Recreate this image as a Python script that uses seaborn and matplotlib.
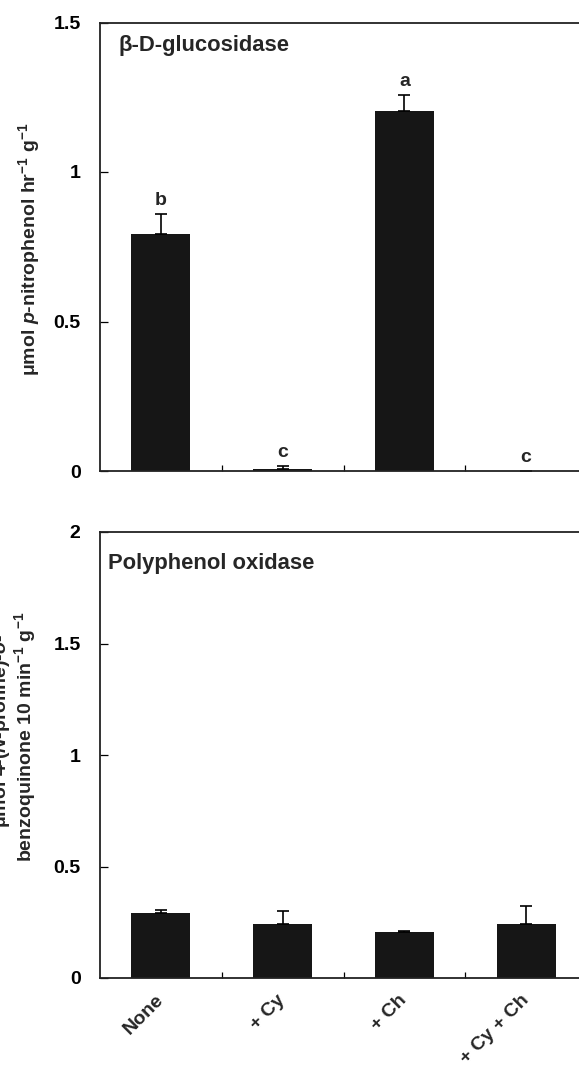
import matplotlib
matplotlib.use("Agg")
import matplotlib.pyplot as plt
import seaborn as sns
import numpy as np
import pandas as pd

categories = ["None", "+ Cy", "+ Ch", "+ Cy + Ch"]
gluc_mean = [0.793, 0.006, 1.205, 0.0]
gluc_err = [0.067, 0.010, 0.052, 0.0]
gluc_letters = ["b", "c", "a", "c"]
ppo_mean = [0.290, 0.244, 0.206, 0.244]
ppo_err = [0.016, 0.057, 0.005, 0.080]
gluc_yticks = [0, 0.5, 1, 1.5]
gluc_yticklabels = ["0", "0.5", "1", "1.5"]
ppo_yticks = [0, 0.5, 1, 1.5, 2]
ppo_yticklabels = ["0", "0.5", "1", "1.5", "2"]

sns.set_theme(style="white")
plt.rcParams["font.family"] = ["Liberation Sans", "DejaVu Sans"]
plt.rcParams["font.weight"] = "bold"
plt.rcParams["mathtext.fontset"] = "custom"
plt.rcParams["mathtext.rm"] = "Liberation Sans:bold"
plt.rcParams["mathtext.bf"] = "Liberation Sans:bold"
plt.rcParams["mathtext.it"] = "Liberation Sans:bold:italic"
plt.rcParams["mathtext.default"] = "rm"

W, H = 579, 1071
fig = plt.figure(figsize=(W / 100, H / 100), dpi=100)
ax1 = fig.add_axes([100 / W, 1 - 471 / H, 487 / W, 448.5 / H])
ax2 = fig.add_axes([100 / W, 1 - 978 / H, 487 / W, 446 / H])

barcolor = "#161616"
FS = 14


def draw(ax, mean, err, ylim, yticks, yticklabels, title, title_x, title_y,
         letters=None, show_x=False):
    df = pd.DataFrame({"cat": categories, "val": mean})
    sns.barplot(data=df, x="cat", y="val", color=barcolor, width=0.485,
                saturation=1, edgecolor="none", ax=ax, errorbar=None)
    pos = np.arange(len(categories))
    ax.errorbar(pos, mean, yerr=[np.zeros(len(err)), err], fmt="none",
                ecolor="black", elinewidth=1.2, capsize=4.6, capthick=1.2)
    ax.set_xlim(-0.5, 3.5)
    ax.set_ylim(*ylim)
    ax.set_yticks(yticks)
    ax.set_yticklabels(yticklabels, fontsize=FS, fontweight="bold")
    ax.tick_params(axis="y", direction="in", length=5.8, width=0.9, pad=14,
                   left=True, colors="black")
    ax.set_xticks(pos)
    ax.set_xticks(pos[:-1] + 0.5, minor=True)
    ax.tick_params(axis="x", which="major", length=0, pad=14)
    ax.tick_params(axis="x", which="minor", direction="in", length=4, width=0.9,
                   bottom=True, colors="black")
    if show_x:
        ax.set_xticklabels(categories, rotation=45, ha="right", va="center",
                           rotation_mode="anchor", fontsize=FS, fontweight="bold")
    else:
        ax.set_xticklabels([])
    ax.set_xlabel("")
    ax.set_ylabel("")
    for s in ["left", "bottom", "top"]:
        ax.spines[s].set_visible(True)
        ax.spines[s].set_color("#222222")
        ax.spines[s].set_linewidth(1.3)
    ax.spines["right"].set_visible(False)
    ax.text(title_x, title_y, title, transform=ax.transAxes, ha="left", va="baseline",
            fontsize=15.8, fontweight="bold")
    if letters is not None:
        for p, m, e, l in zip(pos, mean, err, letters):
            ax.text(p, m + e + 0.03, l, ha="center", va="baseline",
                    fontsize=FS, fontweight="bold")


draw(ax1, gluc_mean, gluc_err, (0, 1.5), gluc_yticks, gluc_yticklabels,
     "β-D-glucosidase", 18 / 487, 0.936, letters=gluc_letters)
draw(ax2, ppo_mean, ppo_err, (0, 2), ppo_yticks, ppo_yticklabels,
     "Polyphenol oxidase", 8 / 487, 0.918, show_x=True)

fig.text(29 / W, 1 - 249 / H, r"μmol $\mathit{p}$-nitrophenol hr$^{-1}$ g$^{-1}$",
         rotation=90, ha="center", va="center", fontsize=FS, fontweight="bold")
fig.text(2 / W, 1 - 731 / H, r"μmol 4-($\mathit{N}$-proline)-$\mathit{o}$-",
         rotation=90, ha="center", va="center", fontsize=FS, fontweight="bold")
fig.text(25 / W, 1 - 737 / H, r"benzoquinone 10 min$^{-1}$ g$^{-1}$",
         rotation=90, ha="center", va="center", fontsize=FS, fontweight="bold")

fig.savefig("out.png", dpi=100)
